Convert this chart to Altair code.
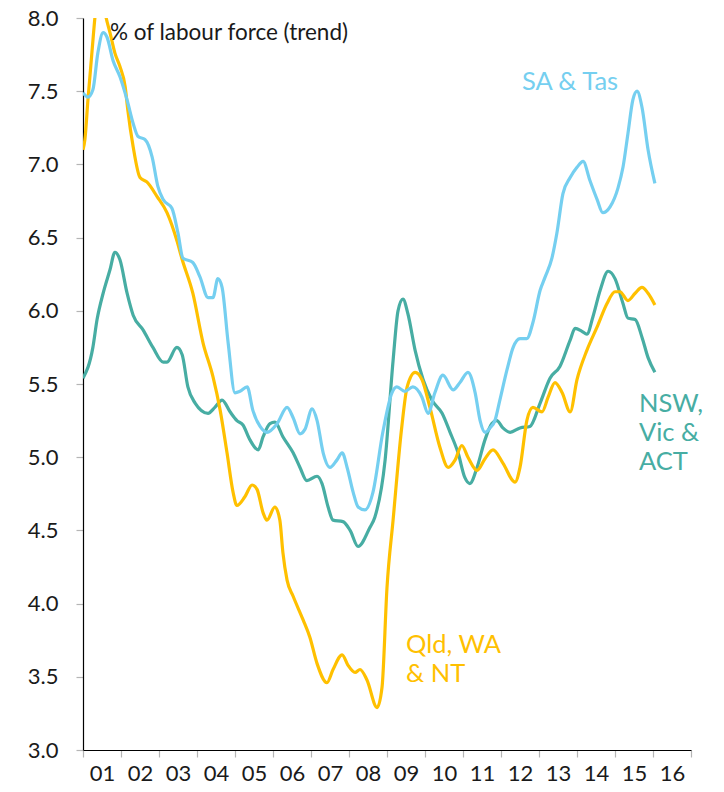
import altair as alt
import pandas as pd

# Unemployment rate by state group, % of labour force (trend)
nsw_years = [2001.00, 2001.26, 2001.37, 2001.53, 2001.71, 2001.84, 2001.97, 2002.16, 2002.32, 2002.58,
             2002.84, 2003.11, 2003.21, 2003.47, 2003.61, 2003.76, 2003.95, 2004.29, 2004.47, 2004.66,
             2004.87, 2005.05, 2005.21, 2005.39, 2005.61, 2005.74, 2005.92, 2006.05, 2006.26, 2006.53,
             2006.71, 2006.89, 2007.16, 2007.29, 2007.45, 2007.58, 2007.84, 2008.03, 2008.24, 2008.55,
             2008.68, 2008.95, 2009.16, 2009.29, 2009.42, 2009.55, 2009.74, 2009.95, 2010.18, 2010.45,
             2010.66, 2010.87, 2011.05, 2011.18, 2011.37, 2011.58, 2011.76, 2011.89, 2012.05, 2012.24,
             2012.50, 2012.76, 2013.03, 2013.29, 2013.55, 2013.82, 2013.95, 2014.13, 2014.26, 2014.42,
             2014.61, 2014.82, 2015.00, 2015.21, 2015.34, 2015.53, 2015.71, 2015.87, 2016.05]
nsw_rate = [5.54, 5.75, 5.94, 6.12, 6.28, 6.40, 6.35, 6.12, 5.97, 5.87,
            5.75, 5.65, 5.65, 5.75, 5.70, 5.48, 5.37, 5.30, 5.34, 5.39,
            5.31, 5.25, 5.22, 5.12, 5.05, 5.14, 5.23, 5.24, 5.14, 5.03,
            4.93, 4.84, 4.87, 4.82, 4.66, 4.57, 4.56, 4.50, 4.39, 4.52,
            4.59, 4.98, 5.66, 6.00, 6.08, 5.98, 5.73, 5.53, 5.39, 5.30,
            5.17, 5.03, 4.86, 4.82, 4.93, 5.12, 5.23, 5.25, 5.20, 5.17,
            5.20, 5.21, 5.37, 5.54, 5.62, 5.80, 5.88, 5.86, 5.84, 5.96,
            6.14, 6.27, 6.22, 6.05, 5.95, 5.94, 5.82, 5.68, 5.58]

qld_years = [2001.00, 2001.05, 2001.13, 2001.24, 2001.32, 2001.45, 2001.61, 2001.71, 2001.84, 2001.97,
             2002.11, 2002.18, 2002.32, 2002.50, 2002.68, 2002.95, 2003.21, 2003.47, 2003.61, 2003.89,
             2004.16, 2004.42, 2004.61, 2004.79, 2004.95, 2005.05, 2005.26, 2005.45, 2005.58, 2005.74,
             2005.84, 2006.05, 2006.18, 2006.26, 2006.37, 2006.53, 2006.79, 2006.97, 2007.16, 2007.42,
             2007.58, 2007.82, 2007.97, 2008.16, 2008.29, 2008.47, 2008.74, 2008.87, 2009.00, 2009.16,
             2009.39, 2009.53, 2009.74, 2009.92, 2010.13, 2010.39, 2010.61, 2010.79, 2010.97, 2011.13,
             2011.37, 2011.58, 2011.79, 2012.05, 2012.37, 2012.50, 2012.68, 2012.84, 2013.08, 2013.24,
             2013.42, 2013.61, 2013.82, 2014.00, 2014.26, 2014.53, 2014.79, 2015.00, 2015.13, 2015.34,
             2015.53, 2015.71, 2015.87, 2016.05]
qld_rate = [7.10, 7.17, 7.44, 7.78, 8.02, 8.25, 8.00, 7.90, 7.76, 7.67,
            7.53, 7.37, 7.12, 6.91, 6.88, 6.78, 6.67, 6.48, 6.35, 6.12,
            5.78, 5.55, 5.32, 5.03, 4.76, 4.67, 4.73, 4.81, 4.78, 4.62,
            4.57, 4.66, 4.57, 4.35, 4.16, 4.05, 3.89, 3.77, 3.59, 3.46,
            3.55, 3.65, 3.58, 3.53, 3.55, 3.48, 3.29, 3.43, 4.11, 4.57,
            5.21, 5.48, 5.58, 5.53, 5.34, 5.07, 4.93, 4.98, 5.08, 5.00,
            4.91, 4.99, 5.05, 4.96, 4.83, 4.93, 5.25, 5.34, 5.31, 5.41,
            5.51, 5.44, 5.31, 5.53, 5.73, 5.89, 6.05, 6.13, 6.13, 6.07,
            6.12, 6.16, 6.12, 6.04]

sa_years = [2001.00, 2001.13, 2001.26, 2001.39, 2001.53, 2001.63, 2001.79, 2001.97, 2002.16, 2002.32,
            2002.45, 2002.63, 2002.82, 2002.97, 2003.11, 2003.34, 2003.50, 2003.63, 2003.89, 2004.08,
            2004.29, 2004.42, 2004.55, 2004.66, 2004.82, 2005.00, 2005.13, 2005.32, 2005.47, 2005.66,
            2005.84, 2006.11, 2006.37, 2006.53, 2006.71, 2006.84, 2007.03, 2007.16, 2007.32, 2007.50,
            2007.68, 2007.82, 2007.95, 2008.11, 2008.24, 2008.42, 2008.63, 2008.89, 2009.13, 2009.26,
            2009.47, 2009.68, 2009.92, 2010.08, 2010.26, 2010.47, 2010.74, 2010.92, 2011.13, 2011.32,
            2011.45, 2011.58, 2011.71, 2011.84, 2011.97, 2012.16, 2012.32, 2012.50, 2012.68, 2012.84,
            2013.03, 2013.16, 2013.34, 2013.47, 2013.63, 2013.82, 2014.00, 2014.16, 2014.34, 2014.53,
            2014.68, 2014.87, 2015.08, 2015.21, 2015.34, 2015.47, 2015.58, 2015.71, 2015.87, 2016.05]
sa_rate = [7.49, 7.46, 7.51, 7.76, 7.90, 7.87, 7.71, 7.60, 7.44, 7.28,
           7.19, 7.17, 7.05, 6.85, 6.76, 6.70, 6.53, 6.36, 6.33, 6.23,
           6.09, 6.09, 6.22, 6.16, 5.78, 5.44, 5.45, 5.48, 5.32, 5.21,
           5.17, 5.23, 5.34, 5.27, 5.16, 5.19, 5.33, 5.25, 5.03, 4.93,
           4.98, 5.03, 4.93, 4.76, 4.66, 4.64, 4.76, 5.17, 5.44, 5.48,
           5.45, 5.48, 5.41, 5.30, 5.44, 5.56, 5.46, 5.51, 5.58, 5.44,
           5.25, 5.17, 5.20, 5.25, 5.39, 5.60, 5.75, 5.81, 5.81, 5.92,
           6.14, 6.23, 6.36, 6.53, 6.80, 6.91, 6.98, 7.02, 6.89, 6.76,
           6.67, 6.71, 6.84, 6.98, 7.21, 7.44, 7.50, 7.39, 7.10, 6.87]

regions = ["NSW, Vic & ACT", "Qld, WA & NT", "SA & Tas"]
region_colors = ["#47ADA3", "#FFC000", "#75CFF0"]

# Series labels placed in data space next to each line ("\n" breaks lines;
# the position is that of the first line)
label_text = ["SA & Tas", "NSW,\nVic &\nACT", "Qld, WA\n& NT"]
label_region = ["SA & Tas", "NSW, Vic & ACT", "Qld, WA & NT"]
label_year = [2012.55, 2015.63, 2009.50]
label_rate = [7.56, 5.36, 3.72]

year_ticks = list(range(2001, 2018))
rate_ticks = [3.0, 3.5, 4.0, 4.5, 5.0, 5.5, 6.0, 6.5, 7.0, 7.5, 8.0]

rows = []
for name, ys, vs in zip(regions, [nsw_years, qld_years, sa_years], [nsw_rate, qld_rate, sa_rate]):
    for t, v in zip(ys, vs):
        rows.append({"region": name, "year": t, "rate": v})
df = pd.DataFrame(rows)

labels = pd.DataFrame({"text": label_text, "region": label_region,
                       "year": label_year, "rate": label_rate})
unit_label = pd.DataFrame({"text": ["% of labour force (trend)"], "year": [2001.71], "rate": [7.90]})

FONT = "Lato"

x_scale = alt.Scale(domain=[2001, 2017], nice=False, zero=False)
y_scale = alt.Scale(domain=[3, 8], nice=False, zero=False)
color_scale = alt.Scale(domain=regions, range=region_colors)

x_axis = alt.Axis(
    values=year_ticks,
    labelExpr="datum.value >= 2017 ? '' : substring(toString(datum.value), 2, 4)",
    labelOffset=19, labelFlush=False, labelOverlap=False, labelBound=False,
    grid=False, title=None,
    tickSize=7, tickColor="#b5b5b5", tickWidth=1.2, domainColor="#000000", domainWidth=1.2,
    labelFontSize=22, labelPadding=6, labelColor="#1a1a1a", labelFont=FONT,
)
y_axis = alt.Axis(
    values=rate_ticks,
    format=".1f", grid=False, title=None, labelOverlap=False, labelFlush=False,
    tickSize=7, tickColor="#b5b5b5", tickWidth=1.2, domainColor="#000000", domainWidth=1.2,
    labelFontSize=22, labelPadding=18, labelColor="#1a1a1a", labelFont=FONT,
)

X = alt.X("year:Q", scale=x_scale, axis=x_axis)
Y = alt.Y("rate:Q", scale=y_scale, axis=y_axis)

base = alt.Chart(df)
layers = []
for name in regions:
    layers.append(
        base.transform_filter(alt.datum.region == name)
        .mark_line(strokeWidth=3.2, interpolate="monotone", clip=True)
        .encode(
            x=X,
            y=Y,
            color=alt.Color("region:N", scale=color_scale, legend=None),
        )
    )

series_labels = alt.Chart(labels).mark_text(
    align="left", baseline="middle", font=FONT, fontSize=25.5, lineBreak="\n", lineHeight=29
).encode(
    x=X,
    y=Y,
    text="text:N",
    color=alt.Color("region:N", scale=color_scale, legend=None),
)

unit_text = alt.Chart(unit_label).mark_text(
    align="left", baseline="middle", font=FONT, fontSize=22.5, color="#1a1a1a"
).encode(
    x=X,
    y=Y,
    text="text:N",
)

chart = alt.layer(*layers, series_labels, unit_text).properties(
    width=608,
    height=732,
    autosize=alt.AutoSizeParams(type="none"),
    padding={"left": 83, "top": 18, "right": 33, "bottom": 42},
    background="white",
).configure_view(stroke=None)

chart.save("out.html", embed_options={"renderer": "svg", "actions": False})
